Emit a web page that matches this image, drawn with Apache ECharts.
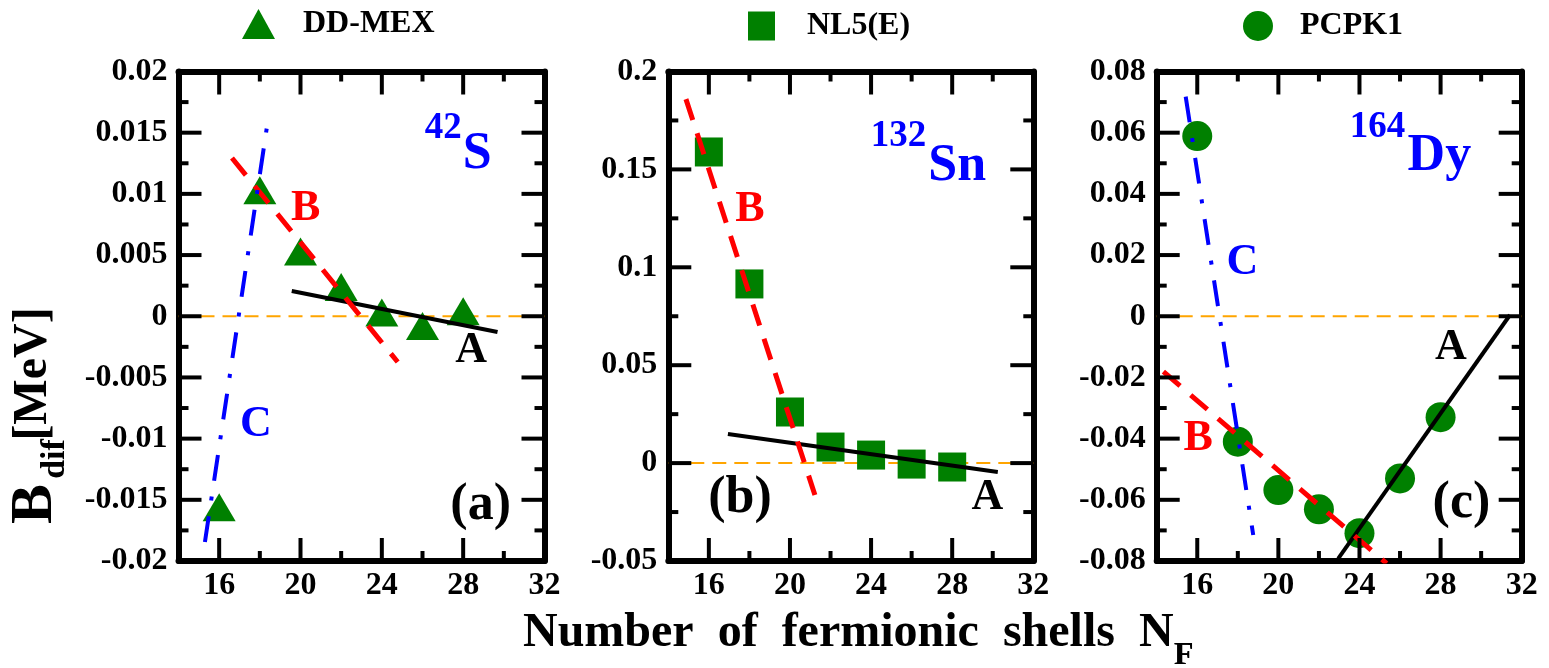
<!DOCTYPE html>
<html>
<head>
<meta charset="utf-8">
<script src="https://cdn.jsdelivr.net/npm/echarts@6/dist/echarts.min.js"></script>
<style>
  html, body { margin: 0; padding: 0; background: #fff; }
  #chart { width: 1549px; height: 668px; }
</style>
</head>
<body>
<div id="chart"></div>
<script>
// Number of fermionic shells N_F used in each calculation
const shells = [16, 18, 20, 22, 24, 26, 28];

// B_dif [MeV] for each functional / nucleus
const ddMex = [-0.0156, 0.0103, 0.0053, 0.0024, 0.0003, -0.0008, 0.0004];   // 42S
const nl5e  = [0.1589, 0.0915, 0.0261, 0.0082, 0.0041, -0.0005, -0.0020];   // 132Sn
const pcpk1 = [0.0589, -0.0410, -0.0568, -0.0631, -0.0709, -0.0530, -0.0330]; // 164Dy

// x axis ticks and labels
const xMajor = [16, 20, 24, 28];
const xMinor = [18, 22, 26, 30];
const xLabels = [16, 20, 24, 28, 32];

// y ranges: [min, max, major step]
const yS42 = [-0.02, 0.02, 0.005];
const ySn132 = [-0.05, 0.2, 0.05];
const yDy164 = [-0.08, 0.08, 0.02];

// trend lines A, B, C: endpoints [N_F, B_dif]
const s42A = [[19.57, 0.00206], [29.69, -0.00129]];
const s42B = [[16.63, 0.01293], [24.78, -0.00374]];
const s42C = [[15.30, -0.01845], [18.40, 0.01604]];
const sn132A = [[16.94, 0.0149], [30.25, -0.0045]];
const sn132B = [[14.87, 0.1859], [21.23, -0.0163]];
const dy164A = [[22.95, -0.0792], [31.42, 0.0004]];
const dy164B = [[14.33, -0.0181], [25.34, -0.0808]];
const dy164C = [[15.43, 0.0718], [18.76, -0.0715]];

// text inside the panels: [N_F, B_dif, text, kind]
const s42Notes = [
  [27.02, 0.01534, '42', 'sup'], [28.69, 0.01318, 'S', 'nuc'],
  [20.26, 0.00876, 'B', 'B'], [17.81, -0.00888, 'C', 'C'],
  [28.39, -0.00284, 'A', 'A'], [28.86, -0.0155, '(a)', 'tag']
];
const sn132Notes = [
  [25.35, 0.1668, '132', 'sup'], [28.25, 0.1515, 'Sn', 'nuc'],
  [18.03, 0.1293, 'B', 'B'], [29.74, -0.0176, 'A', 'A'],
  [17.54, -0.0181, '(b)', 'tag']
];
const dy164Notes = [
  [24.89, 0.0617, '164', 'sup'], [27.94, 0.0523, 'Dy', 'nuc'],
  [18.23, 0.0176, 'C', 'C'], [16.04, -0.0400, 'B', 'B'],
  [28.51, -0.0102, 'A', 'A'], [29.03, -0.0613, '(c)', 'tag']
];

const FONT = '"Liberation Serif", "Times New Roman", serif';
const BLACK = '#000';
const GREEN = '#008000';
const X_MIN = 14, X_MAX = 32;
const GRID_TOP = 71.5, GRID_H = 489.5;
const MAJOR_LEN = 23, MINOR_LEN = 10, TICK_W = 4;   // tick sizes in pixels

const noteStyle = {
  sup: { fontSize: 37, color: '#0000ff' },
  nuc: { fontSize: 52, color: '#0000ff' },
  A:   { fontSize: 44, color: BLACK },
  B:   { fontSize: 44, color: '#ff0000' },
  C:   { fontSize: 44, color: '#0000ff' },
  tag: { fontSize: 52, color: BLACK }
};
const fitStyle = {
  A: { color: BLACK, width: 4, type: 'solid' },
  B: { color: '#ff0000', width: 5, type: [22, 14] },
  C: { color: '#0000ff', width: 4, type: [26, 16, 4, 16] }
};

const panels = [
  { left: 178.5, width: 366, y: yS42, name: 'DD-MEX', values: ddMex,
    symbol: 'triangle', size: [33, 28], fits: { A: s42A, B: s42B, C: s42C }, notes: s42Notes },
  { left: 668.3, width: 365, y: ySn132, name: 'NL5(E)', values: nl5e,
    symbol: 'rect', size: [28, 29], fits: { A: sn132A, B: sn132B }, notes: sn132Notes },
  { left: 1156.7, width: 365, y: yDy164, name: 'PCPK1', values: pcpk1,
    symbol: 'circle', size: 30, fits: { A: dy164A, B: dy164B, C: dy164C }, notes: dy164Notes }
];

const frameLine = () => ({ color: BLACK, width: 6 });
const labelFont = () => ({ color: BLACK, fontSize: 32, fontWeight: 'bold', fontFamily: FONT });

const grid = [], xAxis = [], yAxis = [], series = [];
const markerSeriesIndex = [];

panels.forEach((p, i) => {
  const [lo, hi, step] = p.y;
  grid.push({ left: p.left, top: GRID_TOP, width: p.width, height: GRID_H });

  ['bottom', 'top'].forEach(pos => {
    xAxis.push({
      type: 'value', gridIndex: i, min: X_MIN, max: X_MAX, position: pos,
      splitLine: { show: false },
      axisLine: { show: true, onZero: false, lineStyle: frameLine() },
      axisTick: { show: false },
      axisLabel: pos === 'bottom'
        ? Object.assign({ show: true, customValues: xLabels, margin: 9, showMaxLabel: true, showMinLabel: true }, labelFont())
        : { show: false }
    });
  });

  ['left', 'right'].forEach(pos => {
    yAxis.push({
      type: 'value', gridIndex: i, position: pos,
      min: lo, max: hi, interval: step,
      axisLine: { show: true, onZero: false, lineStyle: frameLine() },
      axisTick: { show: false },
      minorTick: { show: false },
      splitLine: { show: false },
      minorSplitLine: { show: false },
      axisLabel: pos === 'left'
        ? Object.assign({ show: true, margin: 11 }, labelFont())
        : { show: false }
    });
  });

  const xi = i * 2, yi = i * 2;

  // zero reference line
  series.push({
    type: 'line', xAxisIndex: xi, yAxisIndex: yi, silent: true, z: 1,
    data: [[X_MIN, 0], [X_MAX, 0]], symbol: 'none',
    lineStyle: { color: '#ffa500', width: 2, type: [14, 8] }
  });

  // computed points
  markerSeriesIndex.push(series.length);
  series.push({
    type: 'scatter', name: p.name, xAxisIndex: xi, yAxisIndex: yi, z: 3,
    data: shells.map((n, k) => [n, p.values[k]]),
    symbol: p.symbol, symbolSize: p.size,
    itemStyle: { color: GREEN, opacity: 1 }
  });

  // trend lines
  Object.keys(p.fits).forEach(key => {
    series.push({
      type: 'line', xAxisIndex: xi, yAxisIndex: yi, silent: true, z: 4,
      data: p.fits[key], symbol: 'none', clip: true,
      lineStyle: fitStyle[key]
    });
  });

  // panel text
  series.push({
    type: 'scatter', xAxisIndex: xi, yAxisIndex: yi, silent: true, z: 5,
    symbolSize: 1, itemStyle: { color: 'rgba(0,0,0,0)', opacity: 1 },
    data: p.notes.map(n => ({
      value: [n[0], n[1]],
      label: Object.assign({
        show: true, position: 'inside', formatter: n[2], opacity: 1,
        fontWeight: 'bold', fontFamily: FONT
      }, noteStyle[n[3]])
    }))
  });
});

const legend = [
  { data: ['DD-MEX'], left: 242, top: 8, itemWidth: 33, itemHeight: 30, pad: 23 },
  { data: ['NL5(E)'], left: 748, top: 10, itemWidth: 27, itemHeight: 29, pad: 27 },
  { data: ['PCPK1'], left: 1243, top: 10, itemWidth: 30, itemHeight: 30, pad: 22 }
].map(l => ({
  data: l.data, left: l.left, top: l.top, padding: 0,
  itemWidth: l.itemWidth, itemHeight: l.itemHeight, selectedMode: false,
  itemStyle: { opacity: 1 },
  textStyle: Object.assign({ padding: [8, 0, 0, l.pad] }, labelFont())
}));

const titleFont = 'bold 48px ' + FONT;
const subscriptF = () => ({ type: 'text', x: 1174, y: 656, z: 200,
  style: { text: 'F', font: 'bold 32px ' + FONT, fill: BLACK, align: 'left', verticalAlign: 'middle' } });
const titles = [
  { type: 'text', x: 35, y: 504, rotation: Math.PI / 2,
    style: { text: 'B', font: 'bold 60px ' + FONT, fill: BLACK, align: 'center', verticalAlign: 'middle' } },
  { type: 'text', x: 55, y: 459, rotation: Math.PI / 2,
    style: { text: 'dif', font: 'bold 34px ' + FONT, fill: BLACK, align: 'center', verticalAlign: 'middle' } },
  { type: 'text', x: 34, y: 374, rotation: Math.PI / 2,
    style: { text: '[MeV]', font: titleFont, fill: BLACK, align: 'center', verticalAlign: 'middle' } },
  { type: 'text', x: 523, y: 634,
    style: { text: 'Number  of  fermionic  shells  N', font: titleFont, fill: BLACK, align: 'left', verticalAlign: 'middle' } },
  subscriptF()
];

const chart = echarts.init(document.getElementById('chart'), null, { renderer: 'canvas' });
chart.setOption({
  animation: false,
  backgroundColor: '#fff',
  grid, xAxis, yAxis, series, legend,
  graphic: { elements: titles }
});

// inward tick marks on the four sides of each frame, as filled bars placed through the axis scales
const tickBars = [];
try {
  panels.forEach((p, i) => {
    const [lo, hi, step] = p.y;
    const finder = { seriesIndex: markerSeriesIndex[i] };
    const toPx = pt => chart.convertToPixel(finder, pt);
    const bar = (x, y, w, h) => tickBars.push({
      type: 'rect', silent: true, z: 100,
      shape: { x, y, width: w, height: h }, style: { fill: BLACK }
    });
    const nSteps = Math.round((hi - lo) / step);
    for (let k = 1; k < 2 * nSteps; k++) {
      const v = lo + k * step / 2;
      const len = k % 2 === 0 ? MAJOR_LEN : MINOR_LEN;
      const l = toPx([X_MIN, v]), r = toPx([X_MAX, v]);
      bar(l[0], l[1] - TICK_W / 2, len, TICK_W);
      bar(r[0] - len, r[1] - TICK_W / 2, len, TICK_W);
    }
    xMajor.map(v => [v, MAJOR_LEN]).concat(xMinor.map(v => [v, MINOR_LEN])).forEach(([v, len]) => {
      const b = toPx([v, lo]), t = toPx([v, hi]);
      bar(b[0] - TICK_W / 2, b[1] - len, TICK_W, len);
      bar(t[0] - TICK_W / 2, t[1], TICK_W, len);
    });
  });
} catch (e) {
  // leave the frame without ticks if the scales are unavailable
}
chart.setOption({ graphic: { elements: titles.concat(tickBars, [subscriptF()]) } });
</script>
</body>
</html>
